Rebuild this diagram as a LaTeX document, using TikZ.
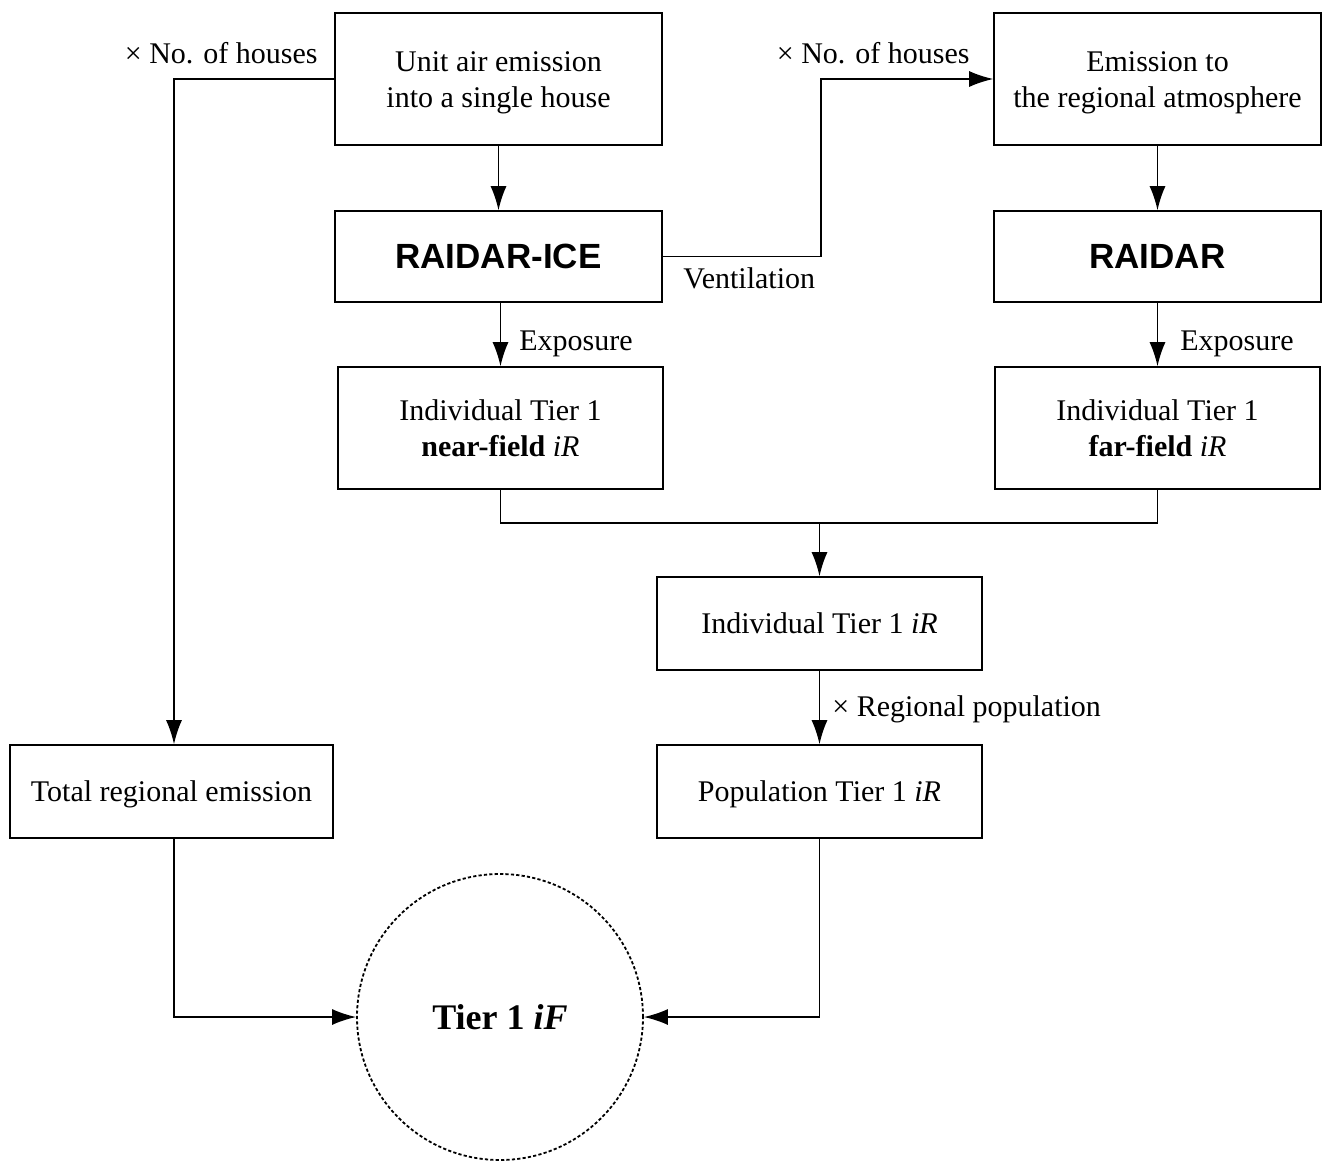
\documentclass[tikz,border=0pt]{standalone}
\usepackage{fontspec}
\setmainfont{Liberation Serif}
\newfontfamily\boldsans{Liberation Sans}
\usetikzlibrary{arrows.meta}
\newcommand{\twolines}[2]{\raisebox{-1.5pt}[\height][\depth]{\begin{tabular}{@{}c@{}}#1\\#2\end{tabular}}}
\tikzset{
  box/.style={draw, line width=0.8pt, inner sep=0pt, font=\fontsize{15}{18}\selectfont},
  onel/.style={text height=10.25pt, text depth=0pt},
  bigbox/.style={box, font=\boldsans\bfseries\fontsize{17.5}{20}\selectfont},
  lbl/.style={inner sep=0pt, font=\fontsize{15}{18}\selectfont},
  conn/.style={line width=0.8pt},
  arr/.style={line width=0.8pt, -{Latex[length=12pt,width=8pt]}},
}
\begin{document}
\begin{tikzpicture}[x=0.5pt,y=-0.5pt]
\useasboundingbox (0,0) rectangle (1323,1163);
% boxes
\node[box, minimum width=163.5pt, minimum height=66pt] (A) at (498.5,79) {\twolines{Unit air emission}{into a single house}};
\node[bigbox, minimum width=163.5pt, minimum height=45.5pt] (B) at (498.5,256.5) {RAIDAR-ICE};
\node[box, minimum width=162.5pt, minimum height=61pt] (C) at (500.5,428) {\twolines{Individual Tier 1}{\textbf{near-field} \textit{iR}}};
\node[box, minimum width=163.5pt, minimum height=66pt] (D) at (1157.5,79) {\twolines{Emission to}{the regional atmosphere}};
\node[bigbox, minimum width=163.5pt, minimum height=45.5pt] (E) at (1157.5,256.5) {RAIDAR};
\node[box, minimum width=162.5pt, minimum height=61pt] (F) at (1157.5,428) {\twolines{Individual Tier 1}{\textbf{far-field} \textit{iR}}};
\node[box, onel, minimum width=162.5pt, minimum height=46.5pt] (G) at (819.5,623.5) {Individual Tier 1 \textit{iR}};
\node[box, onel, minimum width=162.5pt, minimum height=46.5pt] (H) at (819.5,791.5) {Population Tier 1 \textit{iR}};
\node[box, onel, minimum width=161.5pt, minimum height=46.5pt] (I) at (171.5,791.5) {Total regional emission};
\node[draw, circle, line width=0.9pt, dash pattern=on 1.6pt off 1.1pt, minimum size=143pt, inner sep=0pt, text height=12pt, text depth=0pt, font=\bfseries\fontsize{18}{21}\selectfont] (K) at (500,1017) {Tier 1 \textit{iF}};
% coordinates
\coordinate (a1) at (174,79);
\coordinate (v1) at (821,256.5);
\coordinate (v2) at (821,79);
\coordinate (m1) at (500.5,523);
\coordinate (m2) at (1157.5,523);
\coordinate (m3) at (819.5,523);
\coordinate (i1) at (174,1017);
\coordinate (h1) at (819.5,1017);
% connectors
\draw[arr] (A.west) -- (a1) -- (I.north -| a1);
\draw[arr] (A) -- (B);
\draw[arr] (B.east) -- (v1) -- (v2) -- (D.west);
\draw[arr] (D) -- (E);
\draw[arr] (B.south -| C.north) -- (C.north);
\draw[arr] (E) -- (F);
\draw[conn] (C.south) -- (m1) -- (m2) -- (F.south);
\draw[arr] (m3) -- (G.north);
\draw[arr] (G) -- (H);
\draw[arr] (I.south -| i1) -- (i1) -- (K.west);
\draw[arr] (H.south) -- (h1) -- (K.east);
% labels
\node[lbl, anchor=base east] (l1) at (318,63) {× No. of houses};
\node[lbl, anchor=base east] (l2) at (970,63) {× No. of houses};
\node[lbl, anchor=base west] (l3) at (683,288) {Ventilation};
\node[lbl, anchor=base west] (l4) at (519,350) {Exposure};
\node[lbl, anchor=base west] (l5) at (1180,350) {Exposure};
\node[lbl, anchor=base west] (l6) at (832,716) {× Regional population};
\end{tikzpicture}
\end{document}
